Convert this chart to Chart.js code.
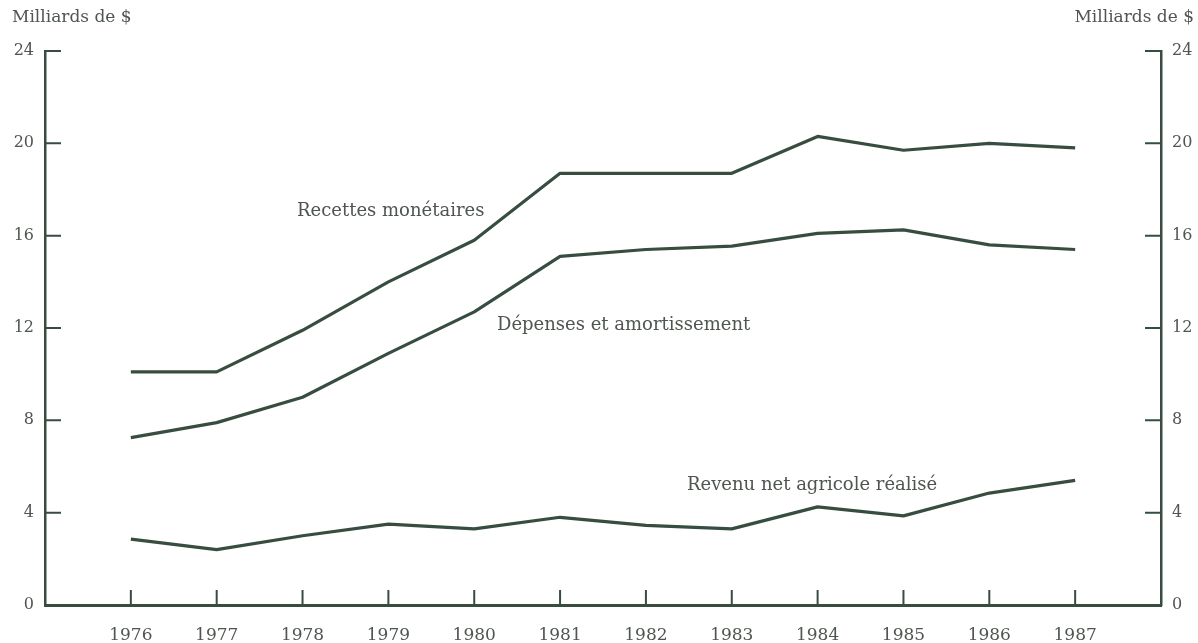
<!DOCTYPE html>
<html>
<head>
<meta charset="utf-8">
<script src="https://cdn.jsdelivr.net/npm/chart.js@4/dist/chart.umd.min.js"></script>
<style>
  body { margin: 0; background: #fff; }
  canvas { display: block; }
</style>
</head>
<body>
<canvas id="chart" width="1198" height="643"></canvas>
<script>
// data (milliards de $)
let years = [1976, 1977, 1978, 1979, 1980, 1981, 1982, 1983, 1984, 1985, 1986, 1987];
let recettes = [10.1, 10.1, 11.9, 14.0, 15.8, 18.7, 18.7, 18.7, 20.3, 19.7, 20.0, 19.8];
let depenses = [7.25, 7.9, 9.0, 10.9, 12.7, 15.1, 15.4, 15.55, 16.1, 16.25, 15.6, 15.4];
let revenu = [2.85, 2.4, 3.0, 3.5, 3.3, 3.8, 3.45, 3.3, 4.25, 3.86, 4.85, 5.4];
let yTicks = [0, 4, 8, 12, 16, 20, 24];

let lineColor = "#364d40";
let textColor = "#4f554f";
let font = "'DejaVu Serif', 'Liberation Serif', serif";

function points(values) {
    return years.map((y, i) => { return { x: y, y: values[i] } });
}

// text labels and inward tick marks
let decor = {
    id: "decor",
    afterDraw(chart) {
        let ctx = chart.ctx;
        let xs = chart.scales.x;
        let yl = chart.scales.y;
        let yr = chart.scales.y2;
        let area = chart.chartArea;

        ctx.save();
        ctx.strokeStyle = lineColor;
        ctx.lineWidth = 2;
        ctx.beginPath();
        for (let yr_ of years) {
            let px = xs.getPixelForValue(yr_);
            ctx.moveTo(px, area.bottom);
            ctx.lineTo(px, area.bottom - 15);
        }
        for (let t of yTicks) {
            if (t == 0) continue;
            let py = yl.getPixelForValue(t);
            ctx.moveTo(area.left, py);
            ctx.lineTo(area.left + 16, py);
            let py2 = yr.getPixelForValue(t);
            ctx.moveTo(area.right, py2);
            ctx.lineTo(area.right - 16, py2);
        }
        ctx.stroke();

        ctx.fillStyle = textColor;
        ctx.font = "17px " + font;
        ctx.textBaseline = "middle";
        ctx.textAlign = "left";
        ctx.fillText("Milliards de $", 12, 18);
        ctx.textAlign = "right";
        ctx.fillText("Milliards de $", 1194, 18);

        ctx.font = "18px " + font;
        ctx.textAlign = "left";
        ctx.fillText("Recettes monétaires", 297, 211);
        ctx.fillText("Dépenses et amortissement", 497, 325);
        ctx.fillText("Revenu net agricole réalisé", 687, 485);
        ctx.restore();
    }
};

let ds = (label, values) => {
    return {
        label: label,
        data: points(values),
        borderColor: lineColor,
        borderWidth: 3.2,
        pointRadius: 0,
        tension: 0,
        borderJoinStyle: "round",
        borderCapStyle: "butt",
        yAxisID: "y"
    };
};

new Chart(document.getElementById("chart"), {
    type: "line",
    data: {
        datasets: [
            ds("Recettes monétaires", recettes),
            ds("Dépenses et amortissement", depenses),
            ds("Revenu net agricole réalisé", revenu)
        ]
    },
    options: {
        responsive: false,
        animation: false,
        layout: { padding: { top: 51, left: 0, right: 0, bottom: 0 } },
        plugins: {
            legend: { display: false },
            tooltip: { enabled: false }
        },
        scales: {
            x: {
                type: "linear",
                min: 1975,
                max: 1988,
                afterFit: (s) => { s.height = 38 },
                afterBuildTicks: (s) => { s.ticks = years.map((v) => { return { value: v } }) },
                grid: { display: false, drawTicks: false },
                border: { display: true, color: lineColor, width: 3 },
                ticks: {
                    color: textColor,
                    font: { family: font, size: 17 },
                    padding: 20,
                    maxRotation: 0,
                    callback: (v) => String(v)
                }
            },
            y: {
                position: "left",
                min: 0,
                max: 24,
                afterFit: (s) => { s.width = 45 },
                afterBuildTicks: (s) => { s.ticks = yTicks.map((v) => { return { value: v } }) },
                grid: { display: false, drawTicks: false },
                border: { display: true, color: lineColor, width: 2.5 },
                ticks: {
                    color: textColor,
                    font: { family: font, size: 16 },
                    padding: 11
                }
            },
            y2: {
                position: "right",
                min: 0,
                max: 24,
                afterFit: (s) => { s.width = 37 },
                afterBuildTicks: (s) => { s.ticks = yTicks.map((v) => { return { value: v } }) },
                grid: { display: false, drawTicks: false },
                border: { display: true, color: lineColor, width: 2.5 },
                ticks: {
                    color: textColor,
                    font: { family: font, size: 16 },
                    padding: 11
                }
            }
        }
    },
    plugins: [decor]
});
</script>
</body>
</html>
